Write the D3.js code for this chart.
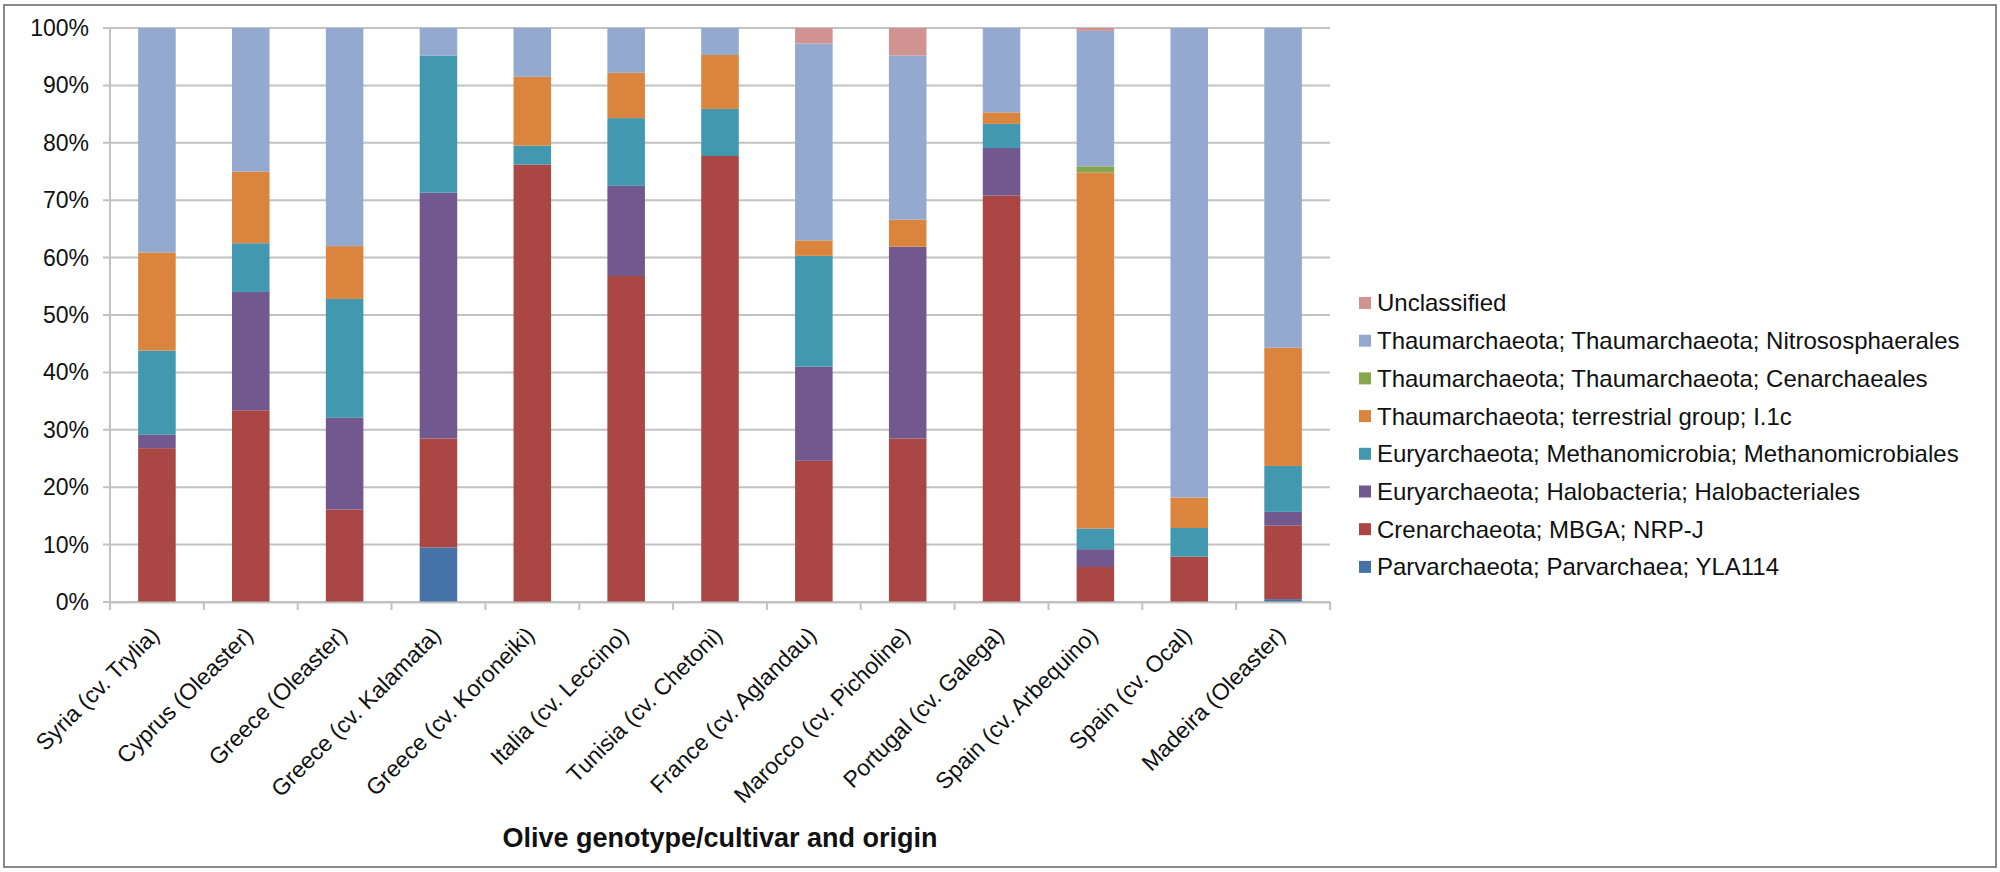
<!DOCTYPE html>
<html>
<head>
<meta charset="utf-8">
<script src="https://cdn.jsdelivr.net/npm/d3@7"></script>
<style>
body { margin:0; background:#fff; }
text { font-family: Arial, "Liberation Sans", sans-serif; }
</style>
</head>
<body>
<svg></svg>
<script>
var width = 2000
var height = 872

var categories = ["Syria (cv. Trylia)","Cyprus (Oleaster)","Greece (Oleaster)","Greece (cv. Kalamata)","Greece (cv. Koroneiki)","Italia (cv. Leccino)","Tunisia (cv. Chetoni)","France (cv. Aglandau)","Marocco (cv. Picholine)","Portugal (cv. Galega)","Spain (cv. Arbequino)","Spain (cv. Ocal)","Madeira (Oleaster)"]

// bottom to top, percent of reads
var parvarchaeota = [0,0,0,9.5,0,0,0,0,0,0,0,0,0.5]
var crenarchaeota = [26.8,33.4,16.1,19.0,76.2,56.8,77.7,24.6,28.5,70.8,6.1,7.9,12.8]
var halobacteriales = [2.4,20.6,16.0,42.8,0,15.7,0,16.4,33.4,8.3,3.1,0,2.4]
var methanomicrobiales = [14.6,8.5,20.7,23.9,3.3,11.8,8.2,19.3,0,4.2,3.6,5.0,8.0]
var terrestrial = [17.1,12.5,9.2,0,12.0,7.9,9.4,2.7,4.7,2.0,62.0,5.3,20.6]
var cenarchaeales = [0,0,0,0,0,0,0,0,0,0,1.1,0,0]
var nitrososphaerales = [39.1,25.0,38.0,4.8,8.5,7.8,4.7,34.3,28.6,14.7,23.6,81.8,55.7]
var unclassified = [0,0,0,0,0,0,0,2.7,4.8,0,0.5,0,0]

var seriesNames = ["Parvarchaeota; Parvarchaea; YLA114","Crenarchaeota; MBGA; NRP-J","Euryarchaeota; Halobacteria; Halobacteriales","Euryarchaeota; Methanomicrobia; Methanomicrobiales","Thaumarchaeota; terrestrial group; I.1c","Thaumarchaeota; Thaumarchaeota; Cenarchaeales","Thaumarchaeota; Thaumarchaeota; Nitrososphaerales","Unclassified"]
var seriesValues = [parvarchaeota, crenarchaeota, halobacteriales, methanomicrobiales, terrestrial, cenarchaeales, nitrososphaerales, unclassified]
var seriesCols = ["#4572A7","#AA4643","#71588F","#4198AF","#DB843D","#89A54E","#93A9CF","#D19392"]

var yTicks = [0,10,20,30,40,50,60,70,80,90,100]

var plotLeft = 110, plotRight = 1330, plotTop = 28, plotBottom = 602

var svg = d3.select("svg")
	.attr("width", width)
	.attr("height", height)

svg.append("rect")
	.attr("x", 4).attr("y", 5)
	.attr("width", width-8).attr("height", height-10)
	.attr("fill", "#fff")
	.attr("stroke", "#8a8a8a")
	.attr("stroke-width", 2)

var rows = categories.map(function(c, i){
	var r = {cat: c}
	seriesNames.forEach(function(s, j){ r[s] = seriesValues[j][i] })
	return r
})

var stacked = d3.stack().keys(seriesNames)(rows)

var xScale = d3.scaleBand()
	.domain(categories)
	.range([plotLeft, plotRight])
	.paddingInner(0.6)
	.paddingOuter(0.3)

var yScale = d3.scaleLinear()
	.domain([0, 100])
	.range([plotBottom, plotTop])

// gridlines
svg.append("g")
	.selectAll("line")
	.data(yTicks)
	.join("line")
	.attr("x1", plotLeft - 7)
	.attr("x2", plotRight)
	.attr("y1", function(d){ return yScale(d) })
	.attr("y2", function(d){ return yScale(d) })
	.attr("stroke", "#c2c2c2")
	.attr("stroke-width", 2)

svg.append("line")
	.attr("x1", plotLeft).attr("x2", plotLeft)
	.attr("y1", plotTop).attr("y2", plotBottom)
	.attr("stroke", "#c2c2c2")
	.attr("stroke-width", 2)

svg.append("g")
	.selectAll("text")
	.data(yTicks)
	.join("text")
	.attr("x", plotLeft - 21)
	.attr("y", function(d){ return yScale(d) })
	.attr("dy", "0.35em")
	.attr("text-anchor", "end")
	.attr("font-size", 23)
	.attr("fill", "#111")
	.text(function(d){ return d + "%" })

// bars
svg.append("g")
	.selectAll("g")
	.data(stacked)
	.join("g")
	.attr("fill", function(d, i){ return seriesCols[i] })
	.selectAll("rect")
	.data(function(d){ return d })
	.join("rect")
	.attr("x", function(d){ return xScale(d.data.cat) })
	.attr("width", xScale.bandwidth())
	.attr("y", function(d){ return yScale(d[1]) })
	.attr("height", function(d){ return yScale(d[0]) - yScale(d[1]) })

// x axis
var xAxis = svg.append("g")
	.attr("transform", "translate(0," + plotBottom + ")")
	.call(d3.axisBottom(xScale).tickSize(0).tickFormat(""))
xAxis.select(".domain").attr("stroke", "#c2c2c2").attr("stroke-width", 2)

var step = xScale.step()
svg.append("g")
	.selectAll("line")
	.data(d3.range(categories.length + 1))
	.join("line")
	.attr("x1", function(d){ return plotLeft + d * step })
	.attr("x2", function(d){ return plotLeft + d * step })
	.attr("y1", plotBottom)
	.attr("y2", plotBottom + 8)
	.attr("stroke", "#c2c2c2")
	.attr("stroke-width", 2)

svg.append("g")
	.selectAll("text")
	.data(categories)
	.join("text")
	.attr("transform", function(d){
		return "translate(" + (xScale(d) + xScale.bandwidth()/2 - 2) + "," + (plotBottom + 29) + ") rotate(-45)"
	})
	.attr("text-anchor", "end")
	.attr("dy", "0.35em")
	.attr("font-size", 23)
	.attr("fill", "#111")
	.text(function(d){ return d })

svg.append("text")
	.attr("x", (plotLeft + plotRight) / 2)
	.attr("y", 847)
	.attr("text-anchor", "middle")
	.attr("font-size", 27)
	.attr("font-weight", "bold")
	.attr("fill", "#111")
	.text("Olive genotype/cultivar and origin")

// legend, top item is the top of the stack
var legendNames = seriesNames.slice().reverse()
var legendCols = seriesCols.slice().reverse()

var legend = svg.append("g")
	.selectAll("g")
	.data(legendNames)
	.join("g")
	.attr("transform", function(d, i){ return "translate(1359," + (303 + i * 37.7) + ")" })

legend.append("rect")
	.attr("x", 0).attr("y", -6)
	.attr("width", 12).attr("height", 12)
	.attr("fill", function(d, i){ return legendCols[i] })

legend.append("text")
	.attr("x", 18)
	.attr("dy", "0.35em")
	.attr("font-size", 24)
	.attr("fill", "#111")
	.text(function(d){ return d })
</script>
</body>
</html>
